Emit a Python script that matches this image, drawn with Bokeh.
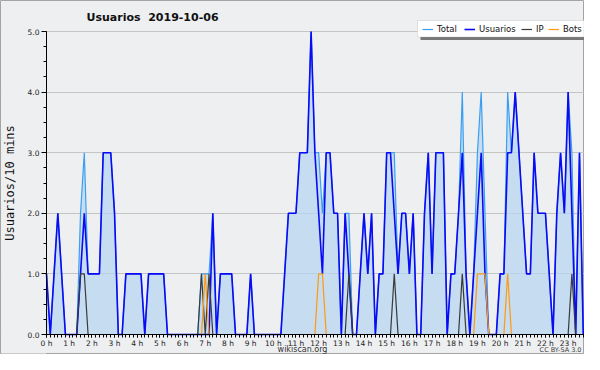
from bokeh.plotting import figure
from bokeh.models import (ColumnDataSource, Range1d, FixedTicker, SingleIntervalTicker,
                          NumeralTickFormatter, Legend, LegendItem, Label, BoxAnnotation)
from bokeh.embed import file_html
from bokeh.resources import INLINE

# ---------------- data (10-minute intervals, 2019-10-06) ----------------
title_text = "Usuarios\u00a0 2019-10-06"
y_title = "Usuarios/10 mins"
footer_text = "wikiscan.org"
license_text = "CC BY-SA 3.0"
series_names = ["Total", "Usuarios", "IP", "Bots"]

hour_labels = ["0 h", "1 h", "2 h", "3 h", "4 h", "5 h", "6 h", "7 h", "8 h", "9 h",
               "10 h", "11 h", "12 h", "13 h", "14 h", "15 h", "16 h", "17 h", "18 h",
               "19 h", "20 h", "21 h", "22 h", "23 h"]

total = [
    1, 0, 1, 2, 1, 0, 0, 0, 0, 2, 3, 1,
    1, 1, 1, 3, 3, 3, 2, 0, 0, 1, 1, 1,
    1, 1, 0, 1, 1, 1, 1, 1, 0, 0, 0, 0,
    0, 0, 0, 0, 0, 1, 1, 1, 2, 0, 1, 1,
    1, 1, 0, 0, 0, 0, 1, 0, 0, 0, 0, 0,
    0, 0, 0, 1, 2, 2, 2, 3, 3, 3, 5, 3,
    3, 2, 3, 3, 2, 2, 0, 2, 2, 0, 0, 1,
    2, 1, 2, 0, 1, 1, 3, 3, 3, 1, 2, 2,
    1, 2, 0, 0, 2, 3, 1, 3, 3, 3, 0, 1,
    1, 2, 4, 1, 0, 1, 3, 4, 2, 0, 0, 0,
    1, 1, 4, 3, 4, 3, 2, 1, 1, 3, 2, 2,
    2, 1, 0, 2, 3, 2, 4, 3, 0, 3, 0, 0,
]

usuarios = [
    1, 0, 1, 2, 1, 0, 0, 0, 0, 1, 2, 1,
    1, 1, 1, 3, 3, 3, 2, 0, 0, 1, 1, 1,
    1, 1, 0, 1, 1, 1, 1, 1, 0, 0, 0, 0,
    0, 0, 0, 0, 0, 0, 0, 0, 2, 0, 1, 1,
    1, 1, 0, 0, 0, 0, 1, 0, 0, 0, 0, 0,
    0, 0, 0, 1, 2, 2, 2, 3, 3, 3, 5, 3,
    2, 1, 3, 3, 2, 2, 0, 2, 1, 0, 0, 1,
    2, 1, 2, 0, 1, 1, 3, 3, 2, 1, 2, 2,
    1, 2, 0, 0, 2, 3, 1, 3, 3, 3, 0, 1,
    1, 2, 3, 1, 0, 1, 2, 3, 1, 0, 0, 0,
    1, 1, 3, 3, 4, 3, 2, 1, 1, 3, 2, 2,
    2, 1, 0, 2, 3, 2, 4, 2, 0, 3, 0, 0,
]

ip = [
    0, 0, 0, 0, 0, 0, 0, 0, 0, 1, 1, 0,
    0, 0, 0, 0, 0, 0, 0, 0, 0, 0, 0, 0,
    0, 0, 0, 0, 0, 0, 0, 0, 0, 0, 0, 0,
    0, 0, 0, 0, 0, 1, 0, 1, 0, 0, 0, 0,
    0, 0, 0, 0, 0, 0, 0, 0, 0, 0, 0, 0,
    0, 0, 0, 0, 0, 0, 0, 0, 0, 0, 0, 0,
    0, 0, 0, 0, 0, 0, 0, 0, 1, 0, 0, 0,
    0, 0, 0, 0, 0, 0, 0, 0, 1, 0, 0, 0,
    0, 0, 0, 0, 0, 0, 0, 0, 0, 0, 0, 0,
    0, 0, 1, 0, 0, 0, 0, 0, 0, 0, 0, 0,
    0, 0, 0, 0, 0, 0, 0, 0, 0, 0, 0, 0,
    0, 0, 0, 0, 0, 0, 0, 1, 0, 0, 0, 0,
]

bots = [
    0, 0, 0, 0, 0, 0, 0, 0, 0, 0, 0, 0,
    0, 0, 0, 0, 0, 0, 0, 0, 0, 0, 0, 0,
    0, 0, 0, 0, 0, 0, 0, 0, 0, 0, 0, 0,
    0, 0, 0, 0, 0, 0, 1, 0, 0, 0, 0, 0,
    0, 0, 0, 0, 0, 0, 0, 0, 0, 0, 0, 0,
    0, 0, 0, 0, 0, 0, 0, 0, 0, 0, 0, 0,
    1, 1, 0, 0, 0, 0, 0, 0, 0, 0, 0, 0,
    0, 0, 0, 0, 0, 0, 0, 0, 0, 0, 0, 0,
    0, 0, 0, 0, 0, 0, 0, 0, 0, 0, 0, 0,
    0, 0, 0, 0, 0, 0, 1, 1, 1, 0, 0, 0,
    0, 0, 1, 0, 0, 0, 0, 0, 0, 0, 0, 0,
    0, 0, 0, 0, 0, 0, 0, 0, 0, 0, 0, 0,
]

slots = list(range(len(total)))          # one slot per 10 minutes
per_hour = len(total) // len(hour_labels)

src = ColumnDataSource(dict(x=slots, total=total, usuarios=usuarios, ip=ip, bots=bots))

# ---------------- layout (pixels) ----------------
W, H = 584, 354
AXIS_X = 46               # pixel column of the y axis (slot 0)
PX_X = 3.78               # pixels per 10-minute slot
Y_TOP, Y_ZERO = 31, 334   # pixel rows of 5.0 and 0.0
PX_Y = (Y_ZERO - Y_TOP) / 5.0
BG = "#eeeff1"

# the frame covers the whole canvas; both axes are pinned at value 0
p = figure(width=W, height=H, output_backend="svg", toolbar_location=None,
           title_location=None,
           x_range=Range1d(-AXIS_X / PX_X, (W - AXIS_X) / PX_X),
           y_range=Range1d(-(H - Y_ZERO) / PX_Y, Y_ZERO / PX_Y),
           min_border_left=0, min_border_right=0, min_border_top=0, min_border_bottom=0,
           background_fill_color=BG, border_fill_color=BG,
           outline_line_color="#a4a4a4", outline_line_width=1)

FONT = "DejaVu Sans"

def fx(px):
    return px

def fy(py):
    return H - py

# y axis
p.yaxis.fixed_location = 0
p.yaxis.ticker = SingleIntervalTicker(interval=1, num_minor_ticks=4)
p.yaxis.bounds = (0, 5)
p.yaxis.formatter = NumeralTickFormatter(format="0.0")
p.yaxis.major_label_text_font = FONT
p.yaxis.major_label_text_font_size = "7.5px"
p.yaxis.major_label_text_color = "#222222"
p.yaxis.major_label_standoff = 2
p.yaxis.major_tick_out = 5
p.yaxis.major_tick_in = 0
p.yaxis.minor_tick_out = 3
p.yaxis.minor_tick_in = 0
p.yaxis.axis_line_color = "black"
p.yaxis.major_tick_line_color = "black"
p.yaxis.minor_tick_line_color = "black"
p.yaxis.axis_label = y_title
p.yaxis.axis_label_text_font = "DejaVu Sans Mono"
p.yaxis.axis_label_text_font_size = "12px"
p.yaxis.axis_label_text_font_style = "normal"
p.yaxis.axis_label_text_color = "#111111"
p.yaxis.axis_label_standoff = 8

# x axis
hour_ticks = [per_hour * k for k in range(len(hour_labels))]
p.xaxis.fixed_location = 0
p.xaxis.bounds = (0, len(slots))
p.xaxis.ticker = FixedTicker(ticks=hour_ticks, minor_ticks=slots)
p.xaxis.major_label_overrides = {t: lab for t, lab in zip(hour_ticks, hour_labels)}
p.xaxis.major_label_text_font = FONT
p.xaxis.major_label_text_font_size = "7.5px"
p.xaxis.major_label_text_color = "#222222"
p.xaxis.major_label_standoff = 1
p.xaxis.major_tick_out = 3
p.xaxis.major_tick_in = 0
p.xaxis.minor_tick_out = 3
p.xaxis.minor_tick_in = 0
p.xaxis.axis_line_color = "black"
p.xaxis.major_tick_line_color = "black"
p.xaxis.minor_tick_line_color = "black"

p.xgrid.grid_line_color = None
p.ygrid.grid_line_color = "#c4c4c4"
p.ygrid.grid_line_width = 1

# hide the grid left of the y axis
p.add_layout(BoxAnnotation(left=1, right=fx(AXIS_X) - 0.5, bottom=1, top=H - 1,
                           left_units="screen", right_units="screen",
                           top_units="screen", bottom_units="screen",
                           fill_color=BG, fill_alpha=1, line_color=None, level="underlay"))

# series
p.varea(x="x", y1=0, y2="total", source=src, fill_color="#b7d5f0", fill_alpha=0.75)
r_total = p.line("x", "total", source=src, line_color="#3a9ff0", line_width=1.2)
r_usu = p.line("x", "usuarios", source=src, line_color="#0a0af5", line_width=1.6)
r_ip = p.line("x", "ip", source=src, line_color="#3a3a3a", line_width=1.2)
r_bots = p.line("x", "bots", source=src, line_color="#ff9a10", line_width=1.2)

# legend: shadow, box, then one entry per series
box_l, box_r, box_t, box_b = 417, 583.5, 20, 36.5
p.add_layout(BoxAnnotation(left=fx(box_l + 3), right=fx(box_r + 3),
                           top=fy(box_t + 3), bottom=fy(box_b + 3),
                           left_units="screen", right_units="screen",
                           top_units="screen", bottom_units="screen",
                           fill_color="#777777", fill_alpha=1, line_color=None))
p.add_layout(BoxAnnotation(left=fx(box_l), right=fx(box_r), top=fy(box_t), bottom=fy(box_b),
                           left_units="screen", right_units="screen",
                           top_units="screen", bottom_units="screen",
                           fill_color="white", fill_alpha=1,
                           line_color="#a8a8a8", line_width=1))

entry_x = [422, 464, 521, 548]
for name, rend, ex in zip(series_names, [r_total, r_usu, r_ip, r_bots], entry_x):
    p.add_layout(Legend(items=[LegendItem(label=name, renderers=[rend])],
                        location=(fx(ex), fy(33.5)),
                        label_text_font=FONT, label_text_font_size="8.5px",
                        label_text_color="#111111",
                        glyph_width=11, glyph_height=8, label_height=8, label_standoff=4,
                        spacing=0, padding=0, margin=0,
                        border_line_color=None, background_fill_alpha=0))

# title and footer texts
p.add_layout(Label(x=fx(86), y=fy(17), x_units="screen", y_units="screen", text=title_text,
                   text_font=FONT, text_font_size="11px", text_font_style="bold",
                   text_color="#111111", text_baseline="middle", text_align="left"))
p.add_layout(Label(x=fx(302), y=fy(349), x_units="screen", y_units="screen", text=footer_text,
                   text_font=FONT, text_font_size="8px", text_color="#333333",
                   text_baseline="middle", text_align="center"))
p.add_layout(Label(x=fx(581), y=fy(349.5), x_units="screen", y_units="screen", text=license_text,
                   text_font=FONT, text_font_size="6.5px", text_color="#444444",
                   text_baseline="middle", text_align="right"))

open("out.html", "w").write(file_html(p, INLINE))
